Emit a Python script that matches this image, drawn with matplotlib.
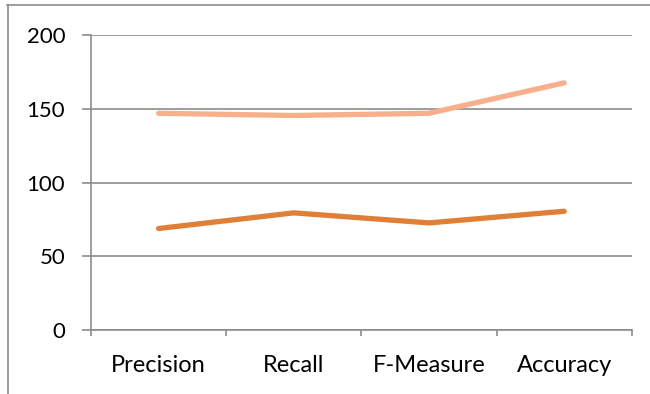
import matplotlib
matplotlib.use("Agg")
import matplotlib.pyplot as plt
from matplotlib.lines import Line2D

categories = ["Precision", "Recall", "F-Measure", "Accuracy"]
serie_baja = [68.9, 79.5, 72.7, 80.6]
serie_alta = [147.0, 145.5, 147.0, 167.6]
yticks = [0, 50, 100, 150, 200]

gris = "#8c8c8c"
plt.rcParams["font.family"] = ["Lato", "DejaVu Sans"]

fig = plt.figure(figsize=(6.5, 3.94), dpi=100)
ax = fig.add_axes([0.14, 0.162, 0.832, 0.749])

x = list(range(len(categories)))
ax.plot(x, serie_baja, color="#df8036", lw=3.8, solid_capstyle="round", solid_joinstyle="round", zorder=3)
ax.plot(x, serie_alta, color="#f7b089", lw=3.8, solid_capstyle="round", solid_joinstyle="round", zorder=3)

ax.set_xlim(-0.5, len(categories) - 0.5)
ax.set_ylim(0, 200)
ax.set_yticks(yticks)
ax.set_yticklabels([str(v) for v in yticks])
ax.set_xticks(x)
ax.set_xticklabels(categories)
ax.set_xticks([i - 0.5 for i in range(len(categories) + 1)], minor=True)

ax.grid(axis="y", color=gris, lw=1.2, zorder=0)
for s in ["top", "right"]:
    ax.spines[s].set_visible(False)
for s in ["left", "bottom"]:
    ax.spines[s].set_color(gris)
    ax.spines[s].set_linewidth(1.2)

ax.tick_params(axis="y", length=6.5, color=gris, width=1.2, labelsize=16, pad=12)
ax.tick_params(axis="x", which="major", length=0, labelsize=17, pad=18)
ax.tick_params(axis="x", which="minor", length=4.5, color=gris, width=1.2)

# marco del grafico (solo arriba e izquierda visibles)
fig.add_artist(Line2D([7 / 650, 1], [1 - 5 / 394] * 2, transform=fig.transFigure, color=gris, lw=1.2))
fig.add_artist(Line2D([8 / 650] * 2, [0, 1 - 5 / 394], transform=fig.transFigure, color=gris, lw=1.2))

fig.savefig("out.png", dpi=100)
